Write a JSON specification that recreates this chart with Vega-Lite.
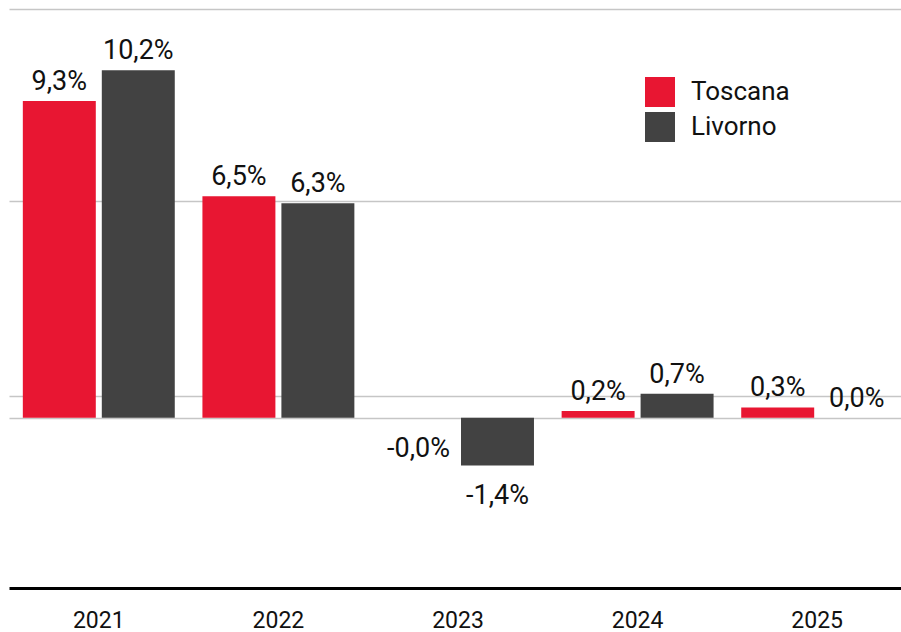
{
  "$schema": "https://vega.github.io/schema/vega-lite/v6.json",
  "width": 893,
  "height": 579,
  "autosize": {"type": "none"},
  "padding": {"left": 8, "top": 9, "right": 0, "bottom": 44},
  "background": "white",
  "config": {"view": {"stroke": null}},
  "data": {
    "values": [
      {"year": "2021", "series": "Toscana", "value": 9.3, "label": "9,3%"},
      {"year": "2021", "series": "Livorno", "value": 10.2, "label": "10,2%"},
      {"year": "2022", "series": "Toscana", "value": 6.5, "label": "6,5%"},
      {"year": "2022", "series": "Livorno", "value": 6.3, "label": "6,3%"},
      {"year": "2023", "series": "Toscana", "value": -0.004, "label": "-0,0%"},
      {"year": "2023", "series": "Livorno", "value": -1.4, "label": "-1,4%"},
      {"year": "2024", "series": "Toscana", "value": 0.2, "label": "0,2%"},
      {"year": "2024", "series": "Livorno", "value": 0.7, "label": "0,7%"},
      {"year": "2025", "series": "Toscana", "value": 0.3, "label": "0,3%"},
      {"year": "2025", "series": "Livorno", "value": 0.0, "label": "0,0%"}
    ]
  },
  "encoding": {
    "x": {
      "field": "year",
      "type": "nominal",
      "scale": {"range": [1, 899], "paddingInner": 0.154, "paddingOuter": 0.077},
      "axis": {
        "title": null,
        "orient": "bottom",
        "domainColor": "#000000",
        "domainWidth": 3,
        "ticks": false,
        "tickSize": 0,
        "grid": false,
        "labelAngle": 0,
        "labelFont": "Roboto",
        "labelFontSize": 23,
        "labelColor": "#111111",
        "labelBaseline": "alphabetic",
        "labelPadding": 39
      }
    },
    "xOffset": {
      "field": "series",
      "type": "nominal",
      "scale": {"domain": ["Toscana", "Livorno"], "paddingInner": 0.076, "paddingOuter": 0}
    },
    "y": {
      "field": "value",
      "type": "quantitative",
      "scale": {"domain": [-5, 12], "nice": false, "zero": false},
      "axis": {
        "title": null,
        "values": [12, 6.35, 0.625, 0],
        "grid": true,
        "gridColor": "#c6c6c6",
        "gridWidth": 1.5,
        "domain": false,
        "ticks": false,
        "labels": false
      }
    }
  },
  "layer": [
    {
      "mark": {"type": "bar"},
      "encoding": {
        "color": {
          "field": "series",
          "type": "nominal",
          "scale": {"domain": ["Toscana", "Livorno"], "range": ["#E81632", "#424242"]},
          "legend": {
            "title": null,
            "orient": "none",
            "legendX": 637,
            "legendY": 68,
            "padding": 0,
            "symbolType": "square",
            "symbolSize": 900,
            "symbolStrokeWidth": 0,
            "symbolOpacity": 1,
            "rowPadding": 5,
            "labelOffset": 16,
            "labelFont": "Roboto",
            "labelFontSize": 26,
            "labelColor": "#111111",
            "labelLimit": 300
          }
        }
      }
    },
    {
      "transform": [{"filter": "datum.value >= 0"}],
      "mark": {"type": "text", "baseline": "alphabetic", "dy": -11, "font": "Roboto", "fontSize": 27, "color": "#111111"},
      "encoding": {"text": {"field": "label"}}
    },
    {
      "transform": [{"filter": "datum.value < 0"}],
      "mark": {"type": "text", "baseline": "alphabetic", "dy": 39, "font": "Roboto", "fontSize": 27, "color": "#111111"},
      "encoding": {"text": {"field": "label"}}
    }
  ]
}
